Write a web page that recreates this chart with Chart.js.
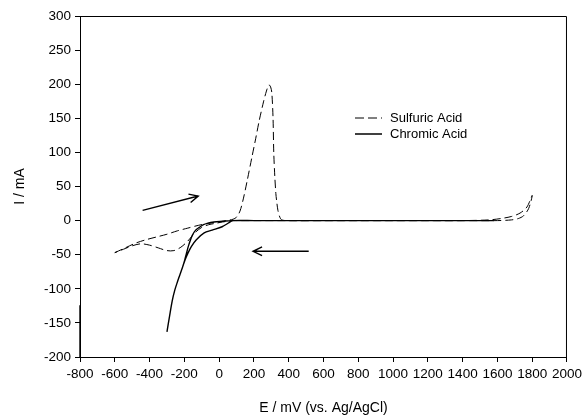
<!DOCTYPE html>
<html>
<head>
<meta charset="utf-8">
<script src="https://cdn.jsdelivr.net/npm/chart.js@4/dist/chart.umd.min.js"></script>
<style>
  html, body { margin: 0; padding: 0; background: #fff; }
  #wrap { width: 586px; height: 417px; }
</style>
</head>
<body>
<div id="wrap"><canvas id="cvChart"></canvas></div>
<script>
// Sulfuric acid scan: potential (mV) and current (mA), forward then reverse
var sulfuricE = [-600, -540, -480, -420, -360, -300, -240, -180, -120, -60, 0, 40, 80, 100, 120, 140, 160, 190, 210, 230, 255, 272, 286, 296, 303, 310, 314, 320, 326, 331, 338, 349, 360, 400, 600, 800, 1000, 1200, 1400, 1550, 1620, 1680, 1730, 1770, 1800,
                 1780, 1750, 1720, 1680, 1600, 1400, 1200, 1000, 800, 600, 400, 200, 120, 80, 50, 20, -20, -60, -100, -140, -180, -220, -260, -300, -350, -400, -450, -500, -550, -600];
var sulfuricI = [-47, -40, -33, -28, -24, -20, -15, -11, -7, -4, -2, 0, 2, 5, 14, 33, 57, 95, 120, 146, 174, 190, 199, 196, 187, 150, 100, 65, 40, 28, 15, 5, 1, 0, 0, 0, 0, 0, 0, 1, 3, 6, 11, 20, 37,
                 18, 7, 3, 1, 0, 0, 0, 0, 0, 0, 0, 0, 0, 0, -1, -2, -4, -6, -10, -18, -30, -39, -44, -44, -40, -36, -34, -37, -42, -47];

// Chromic acid scan
var chromicE = [-800, -800, null, -300, -285, -270, -255, -240, -225, -210, -198, -188, -175, -155, -135, -114, -90, -69, -30, 20, 74, 200, 600, 1000, 1400, 1580,
                1400, 1000, 600, 200, 80, 57, 17, -40, -86, -131, -160, -180, -195, -210, -225, -240, -255, -270, -285, -300];
var chromicI = [-124, -200, null, -163, -140, -118, -102, -90, -79, -68, -58, -48, -36, -22, -14, -10, -6, -4, -2, -1, 0, 0, 0, 0, 0, 0,
                0, 0, 0, 0, 0, -3, -9, -14, -18, -28, -38, -48, -57, -68, -79, -90, -102, -118, -140, -163];

// scan direction arrows [fromE, fromI, toE, toI]
var arrowForward = [-440, 15, -120, 36];
var arrowReverse = [515, -45, 195, -45];

var seriesNames = ['Sulfuric Acid', 'Chromic Acid'];

function toPoints(xs, ys) {
    var pts = [];
    for (var i = 0; i < xs.length; i++) {
        if (xs[i] === null) {
            pts.push({ x: -700, y: null });
        } else {
            pts.push({ x: xs[i], y: ys[i] });
        }
    }
    return pts;
}

var FONT = "'Liberation Sans', Arial, sans-serif";

var framePlugin = {
    id: 'frameAndNotes',
    afterDatasetsDraw: function(chart) {
        var ctx = chart.ctx;
        var a = chart.chartArea;
        var xs = chart.scales.x, ys = chart.scales.y;
        ctx.save();
        // top and right frame
        ctx.strokeStyle = '#000';
        ctx.lineWidth = 1;
        ctx.beginPath();
        ctx.moveTo(a.left, a.top + 0.5);
        ctx.lineTo(a.right - 0.5, a.top + 0.5);
        ctx.lineTo(a.right - 0.5, a.bottom);
        ctx.stroke();

        // arrows
        [arrowForward, arrowReverse].forEach(function(ar) {
            var x1 = xs.getPixelForValue(ar[0]), y1 = ys.getPixelForValue(ar[1]);
            var x2 = xs.getPixelForValue(ar[2]), y2 = ys.getPixelForValue(ar[3]);
            var ang = Math.atan2(y2 - y1, x2 - x1);
            ctx.lineWidth = 1.4;
            ctx.beginPath();
            ctx.moveTo(x1, y1);
            ctx.lineTo(x2, y2);
            ctx.moveTo(x2 - 10 * Math.cos(ang - 0.45), y2 - 10 * Math.sin(ang - 0.45));
            ctx.lineTo(x2, y2);
            ctx.lineTo(x2 - 10 * Math.cos(ang + 0.45), y2 - 10 * Math.sin(ang + 0.45));
            ctx.stroke();
        });

        // legend inside the plot
        var lx = a.left + 275, ly = a.top + 102;
        ctx.font = '13px ' + FONT;
        ctx.fillStyle = '#000';
        ctx.textBaseline = 'middle';
        ctx.lineWidth = 1;
        ctx.setLineDash([9, 4]);
        ctx.beginPath();
        ctx.moveTo(lx, ly); ctx.lineTo(lx + 27, ly);
        ctx.stroke();
        ctx.setLineDash([]);
        ctx.lineWidth = 1.5;
        ctx.beginPath();
        ctx.moveTo(lx, ly + 16); ctx.lineTo(lx + 27, ly + 16);
        ctx.stroke();
        ctx.fillText(seriesNames[0], lx + 35, ly);
        ctx.fillText(seriesNames[1], lx + 35, ly + 16);
        ctx.restore();
    }
};

var ctx = document.getElementById('cvChart').getContext('2d');
new Chart(ctx, {
    type: 'line',
    data: {
        datasets: [{
            label: seriesNames[0],
            data: toPoints(sulfuricE, sulfuricI),
            borderColor: '#000',
            borderWidth: 1,
            borderDash: [8, 4],
            pointRadius: 0,
            tension: 0.3,
            fill: false
        }, {
            label: seriesNames[1],
            data: toPoints(chromicE, chromicI),
            borderColor: '#000',
            borderWidth: 1.4,
            pointRadius: 0,
            tension: 0.3,
            spanGaps: false,
            clip: 3,
            fill: false
        }]
    },
    options: {
        responsive: true,
        maintainAspectRatio: false,
        animation: false,
        layout: { padding: { top: 16, right: 15, left: 0, bottom: 0 } },
        plugins: {
            legend: { display: false },
            tooltip: { enabled: false }
        },
        scales: {
            x: {
                type: 'linear',
                min: -800,
                max: 2000,
                afterFit: function(s) { s.height = 60; },
                ticks: { stepSize: 200, color: '#000', font: { family: FONT, size: 13.5 }, padding: 4, maxRotation: 0,
                         callback: function(v) { return String(v); } },
                grid: { drawOnChartArea: false, drawTicks: true, tickLength: 5, color: '#000' },
                border: { color: '#000', width: 1 },
                title: { display: true, text: 'E / mV (vs. Ag/AgCl)', color: '#000', font: { family: FONT, size: 14 }, padding: { top: 8, bottom: 0 } }
            },
            y: {
                type: 'linear',
                min: -200,
                max: 300,
                afterFit: function(s) { s.width = 80; },
                ticks: { stepSize: 50, color: '#000', font: { family: FONT, size: 13.5 }, padding: 4 },
                grid: { drawOnChartArea: false, drawTicks: true, tickLength: 5, color: '#000' },
                border: { color: '#000', width: 1 },
                title: { display: true, text: 'I / mA', color: '#000', font: { family: FONT, size: 14 }, padding: { top: 12, bottom: 0 } }
            }
        }
    },
    plugins: [framePlugin]
});
</script>
</body>
</html>
